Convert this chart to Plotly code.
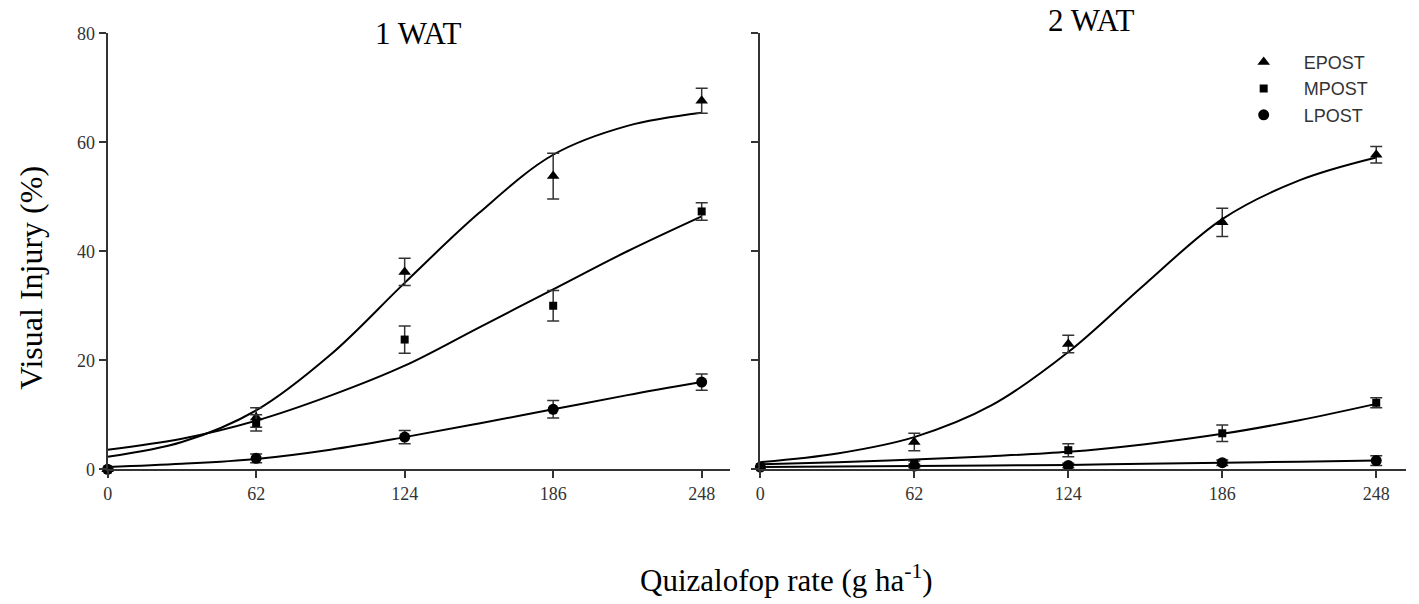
import plotly.graph_objects as go

# ---- data ----
rates = [0, 62, 124, 186, 248]
x_ticks = [0, 62, 124, 186, 248]
y_ticks = [0, 20, 40, 60, 80]
series = ["EPOST", "MPOST", "LPOST"]

# 1 WAT observed means and standard errors
wat1_epost = [0, 9.5, 36.2, 53.8, 67.6]
wat1_epost_se = [None, 1.8, 2.5, 4.2, 2.3]
wat1_mpost = [0, 8.5, 23.8, 30.0, 47.3]
wat1_mpost_se = [None, 1.5, 2.5, 2.8, 1.6]
wat1_lpost = [0, 2.0, 5.9, 11.0, 16.0]
wat1_lpost_se = [None, 0.8, 1.2, 1.6, 1.5]

# 2 WAT observed means and standard errors
wat2_epost = [0.4, 5.0, 23.0, 45.3, 57.7]
wat2_epost_se = [None, 1.6, 1.6, 2.6, 1.5]
wat2_mpost = [0.4, 1.0, 3.5, 6.6, 12.2]
wat2_mpost_se = [None, 0.5, 1.2, 1.5, 0.9]
wat2_lpost = [0.4, 0.6, 0.7, 1.2, 1.6]
wat2_lpost_se = [None, 0.3, 0.4, 0.5, 0.9]

# fitted curves at these rates
fit_x = [0, 31, 62, 93, 124, 155, 186, 217, 248]
wat1_epost_fit = [2.3, 5.0, 10.8, 21.0, 34.2, 47.0, 57.7, 63.0, 65.4]
wat1_mpost_fit = [3.6, 5.6, 8.9, 13.5, 19.0, 26.0, 33.0, 40.0, 46.4]
wat1_lpost_fit = [0.4, 1.0, 1.9, 3.6, 5.9, 8.4, 11.0, 13.6, 16.0]
wat2_epost_fit = [1.3, 2.9, 5.9, 11.7, 21.5, 34.0, 45.9, 53.0, 57.2]
wat2_mpost_fit = [0.9, 1.3, 1.8, 2.4, 3.2, 4.6, 6.5, 9.0, 12.0]
wat2_lpost_fit = [0.4, 0.5, 0.6, 0.7, 0.8, 1.0, 1.2, 1.4, 1.6]

symbols = {"EPOST": "triangle-up", "MPOST": "square", "LPOST": "circle"}
msizes = {"EPOST": 11, "MPOST": 8, "LPOST": 11}

panels = [
    ("x", "y", {"EPOST": (wat1_epost, wat1_epost_se, wat1_epost_fit),
                "MPOST": (wat1_mpost, wat1_mpost_se, wat1_mpost_fit),
                "LPOST": (wat1_lpost, wat1_lpost_se, wat1_lpost_fit)}, True),
    ("x2", "y2", {"EPOST": (wat2_epost, wat2_epost_se, wat2_epost_fit),
                  "MPOST": (wat2_mpost, wat2_mpost_se, wat2_mpost_fit),
                  "LPOST": (wat2_lpost, wat2_lpost_se, wat2_lpost_fit)}, False),
]

fig = go.Figure()
for xa, ya, data, show in panels:
    for s in series:
        vals, se, fit = data[s]
        fig.add_trace(go.Scatter(
            x=fit_x, y=fit, mode="lines", line=dict(color="black", width=2, shape="spline", smoothing=1.0),
            xaxis=xa, yaxis=ya, showlegend=False, hoverinfo="skip", cliponaxis=False))
    for s in series:
        vals, se, fit = data[s]
        fig.add_trace(go.Scatter(
            x=rates, y=vals, mode="markers", name=s,
            marker=dict(symbol=symbols[s], size=msizes[s], color="black"),
            error_y=dict(type="data", array=se, visible=True, color="#333333", thickness=1.5, width=6),
            xaxis=xa, yaxis=ya, showlegend=show, cliponaxis=False))

W, H = 1419, 604
axis_common = dict(showline=True, linecolor="#333333", linewidth=2, ticks="outside", ticklen=7,
                   tickwidth=1.5, tickcolor="#333333", showgrid=False, zeroline=False,
                   tickfont=dict(family="Liberation Serif", size=18, color="#333333"))
ydom = [1 - 475 / H, 1 - 24 / H]
fig.update_layout(
    width=W, height=H, paper_bgcolor="white", plot_bgcolor="white",
    margin=dict(l=0, r=0, t=0, b=0),
    xaxis=dict(domain=[103 / W, 728 / W], range=[0, 260], tickvals=x_ticks, **axis_common),
    yaxis=dict(domain=ydom, range=[0, 80], tickvals=y_ticks, anchor="x", **axis_common),
    xaxis2=dict(domain=[758 / W, 1406 / W], range=[0, 260], tickvals=x_ticks, anchor="y2", **axis_common),
    yaxis2=dict(domain=ydom, range=[0, 80], tickvals=y_ticks, anchor="x2", showticklabels=False, **axis_common),
    legend=dict(x=1223 / W, y=1 - 35 / H, xanchor="left", yanchor="top", bgcolor="rgba(0,0,0,0)",
                font=dict(family="Liberation Sans", size=18, color="#333333"), itemwidth=70,
                tracegroupgap=0),
    showlegend=True,
    annotations=[
        dict(text="1 WAT", x=414 / W, y=1 - 24 / H, xref="paper", yref="paper", showarrow=False,
             xanchor="center", yanchor="middle",
             font=dict(family="Liberation Serif", size=31, color="black")),
        dict(text="2 WAT", x=1090 / W, y=1 - 11 / H, xref="paper", yref="paper", showarrow=False,
             xanchor="center", yanchor="middle",
             font=dict(family="Liberation Serif", size=31, color="black")),
        dict(text="Visual Injury (%)", x=26 / W, y=1 - 277 / H, xref="paper", yref="paper", showarrow=False,
             xanchor="center", yanchor="middle", textangle=-90,
             font=dict(family="Liberation Serif", size=32, color="black")),
        dict(text="Quizalofop rate (g ha<sup>-1</sup>)", x=784 / W, y=1 - 588 / H, xref="paper", yref="paper",
             showarrow=False, xanchor="center", yanchor="middle",
             font=dict(family="Liberation Serif", size=31, color="black")),
    ],
)

fig.write_html(
    "out.html",
    config={"displayModeBar": False},
    post_script=("document.documentElement.style.margin='0';document.documentElement.style.padding='0';"
                 "document.documentElement.style.overflow='hidden';"
                 "document.body.style.margin='0';document.body.style.padding='0';"
                 "document.body.style.overflow='hidden';"),
)
